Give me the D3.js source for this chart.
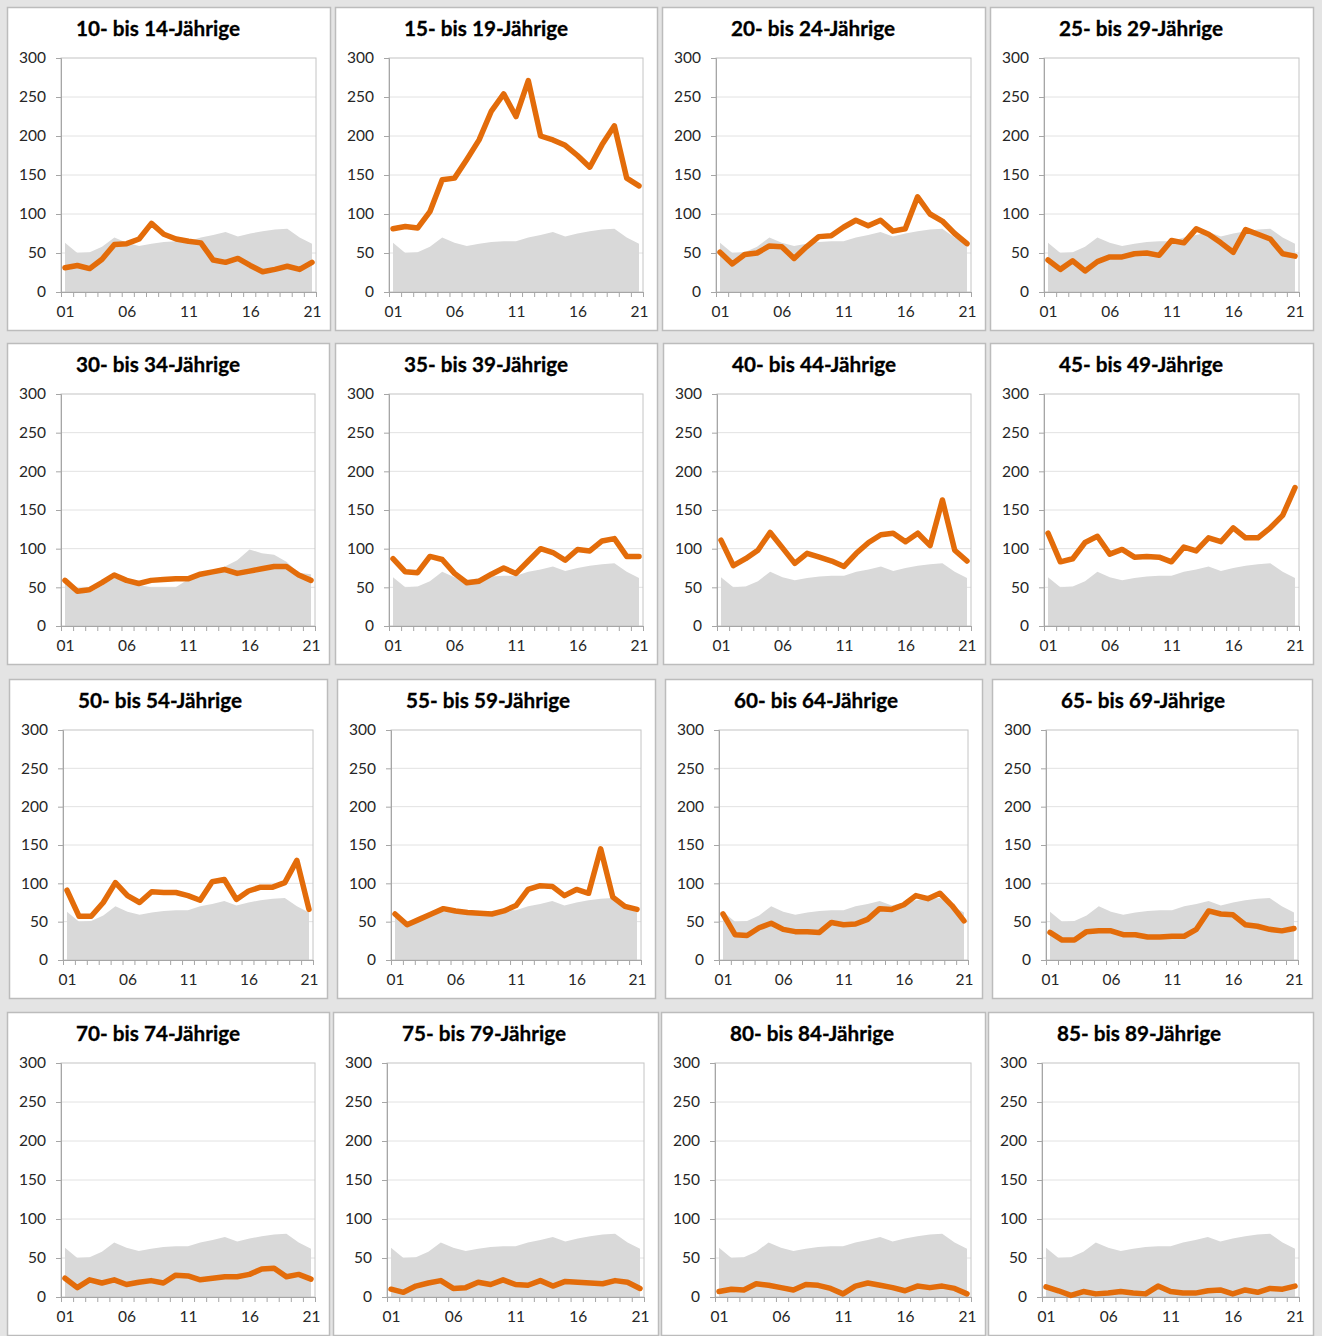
<!DOCTYPE html>
<html><head><meta charset="utf-8">
<script src="https://cdn.jsdelivr.net/npm/d3@7"></script>
<style>
html,body{margin:0;padding:0;background:#e4e4e4;}
svg{display:block;}
</style></head><body>
<svg id="c" width="1322" height="1336"></svg>
<script>
// ---------- data ----------
const years = ["01","02","03","04","05","06","07","08","09","10","11","12","13","14","15","16","17","18","19","20","21"];
const xLabels = ["01","06","11","16","21"];
const yTicks = [0,50,100,150,200,250,300];
const ageGroups = ["10- bis 14-Jährige","15- bis 19-Jährige","20- bis 24-Jährige","25- bis 29-Jährige",
  "30- bis 34-Jährige","35- bis 39-Jährige","40- bis 44-Jährige","45- bis 49-Jährige",
  "50- bis 54-Jährige","55- bis 59-Jährige","60- bis 64-Jährige","65- bis 69-Jährige",
  "70- bis 74-Jährige","75- bis 79-Jährige","80- bis 84-Jährige","85- bis 89-Jährige"];

// grey background area (reference level)
const avgAll    = [63,50,51,58,70,63,59,62,64,65,65,70,73,77,71,75,78,80,81,70,62];
const avg30to34 = [59,44,43,52,62,57,53,50,50,50,60,66,72,77,85,99,94,92,83,69,67];

// orange series
const v10_14 = [31,34,30,42,61,62,68,88,74,68,65,63,41,38,43,34,26,29,33,29,38];
const v15_19 = [81,84,82,103,144,146,170,195,232,254,225,271,200,195,188,175,160,189,213,146,136];
const v20_24 = [51,36,48,50,59,58,43,58,71,72,83,92,85,92,78,81,122,100,91,75,62];
const v25_29 = [41,29,40,27,39,45,45,49,50,47,66,63,81,74,63,51,80,74,68,49,46];
const v30_34 = [59,45,47,56,66,59,55,59,60,61,61,67,70,73,68,71,74,77,77,66,59];
const v35_39 = [87,70,69,90,86,68,56,58,67,75,68,84,100,95,85,99,97,110,113,90,90];
const v40_44 = [111,78,87,98,121,101,81,94,89,84,77,94,108,118,120,109,120,104,163,98,84];
const v45_49 = [120,83,87,108,116,93,99,89,90,89,83,102,97,114,109,127,114,114,127,143,179];
const v50_54 = [91,57,57,75,101,84,75,89,88,88,84,78,102,105,79,90,95,95,101,130,66];
const v55_59 = [60,46,53,60,67,64,62,61,60,64,71,92,97,96,84,92,87,145,82,70,66];
const v60_64 = [60,33,32,42,48,40,37,37,36,49,46,47,53,67,66,72,84,80,87,71,51];
const v65_69 = [36,26,26,37,38,38,33,33,30,30,31,31,40,64,60,59,46,44,40,38,41];
const v70_74 = [24,12,22,18,22,16,19,21,18,28,27,22,24,26,26,29,36,37,26,29,23];
const v75_79 = [10,6,14,18,21,11,12,19,16,22,16,15,21,14,20,19,18,17,21,19,11];
const v80_84 = [7,10,9,17,15,12,9,16,15,11,4,14,18,15,12,8,14,12,14,11,4];
const v85_89 = [13,8,2,7,4,5,7,5,4,14,7,5,5,8,9,4,9,6,11,10,14];

const seriesList = [v10_14,v15_19,v20_24,v25_29,v30_34,v35_39,v40_44,v45_49,
                    v50_54,v55_59,v60_64,v65_69,v70_74,v75_79,v80_84,v85_89];
const areaList = seriesList.map((s,i)=> i===4 ? avg30to34 : avgAll);

// ---------- layout ----------
const colX = [[7,335,662,990],[7,335,663,990],[9,337,665,992],[7,333,661,988]];
const colW = [[324,323,324,324],[323,323,323,324],[319,319,318,321],[323,326,325,326]];
const rowY = [7,343,679,1012];
const rowH = [324,322,320,324];

const svg = d3.select("#c");
svg.append("rect").attr("width",1322).attr("height",1336).attr("fill","#e4e4e4");

const FONT = "Lato, 'Open Sans', 'DejaVu Sans', sans-serif";

ageGroups.forEach((title, k) => {
  const r = Math.floor(k/4), c = k%4;
  const px = colX[r][c], py = rowY[r], w = colW[r][c], h = rowH[r];
  const g = svg.append("g").attr("transform",`translate(${px},${py})`);

  g.append("rect").attr("x",0.5).attr("y",0.5).attr("width",w-1).attr("height",h-1)
    .attr("fill","#ffffff").attr("stroke","#bcbcbc").attr("stroke-width",1.5);

  const pl = 54, pr = w - 15, pt = 51, pb = h - 39;

  const y = d3.scaleLinear().domain([0,300]).range([pb,pt]);
  const x = d3.scalePoint().domain(years).range([pl+4, pr-4]);
  const xb = d3.scaleLinear().domain([0,years.length]).range([pl,pr]);

  // title
  g.append("text").attr("x", 151).attr("y", 29)
    .attr("text-anchor","middle")
    .attr("font-family",FONT).attr("font-weight","bold").attr("font-size",21)
    .attr("fill","#000").attr("stroke","#000").attr("stroke-width",0.3)
    .attr("textLength",164).attr("lengthAdjust","spacingAndGlyphs")
    .text(title);

  // gridlines
  g.append("g").selectAll("line").data(yTicks.filter(t=>t>0 && t<300)).join("line")
    .attr("x1",pl).attr("x2",pr).attr("y1",d=>y(d)).attr("y2",d=>y(d))
    .attr("stroke","#e2e2e2").attr("stroke-width",1);

  // grey area
  const vals = areaList[k];
  const area = d3.area().x((d,i)=>x(years[i])).y0(y(0)).y1(d=>y(d));
  g.append("path").datum(vals).attr("d",area).attr("fill","#d9d9d9");

  // plot border (top/right)
  g.append("rect").attr("x",pl).attr("y",pt).attr("width",pr-pl).attr("height",pb-pt)
    .attr("fill","none").attr("stroke","#c4c4c4").attr("stroke-width",1);

  // y axis
  const ya = d3.axisLeft(y).tickValues(yTicks).tickSize(5).tickPadding(10);
  const yg = g.append("g").attr("transform",`translate(${pl},0)`).call(ya);
  yg.select(".domain").attr("stroke","#a6a6a6");
  yg.selectAll(".tick line").attr("stroke","#a6a6a6");
  yg.selectAll("text").attr("font-family",FONT).attr("font-size",15.5).attr("fill","#262626");

  // x axis ticks (between categories)
  const xt = d3.axisBottom(xb).tickValues(d3.range(years.length+1)).tickSize(5).tickFormat("");
  const xg = g.append("g").attr("transform",`translate(0,${pb})`).call(xt);
  xg.select(".domain").attr("stroke","#a6a6a6");
  xg.selectAll(".tick line").attr("stroke","#a6a6a6");

  // x labels
  const xl = d3.axisBottom(x).tickValues(xLabels).tickSize(0).tickPadding(14);
  const xlg = g.append("g").attr("transform",`translate(0,${pb})`).call(xl);
  xlg.select(".domain").remove();
  xlg.selectAll("text").attr("font-family",FONT).attr("font-size",15.5).attr("fill","#262626");

  // orange line
  const line = d3.line().x((d,i)=>x(years[i])).y(d=>y(d));
  g.append("path").datum(seriesList[k]).attr("d",line)
    .attr("fill","none").attr("stroke","#e36c0a").attr("stroke-width",5.5)
    .attr("stroke-linejoin","round").attr("stroke-linecap","round");
});
</script>
</body></html>
